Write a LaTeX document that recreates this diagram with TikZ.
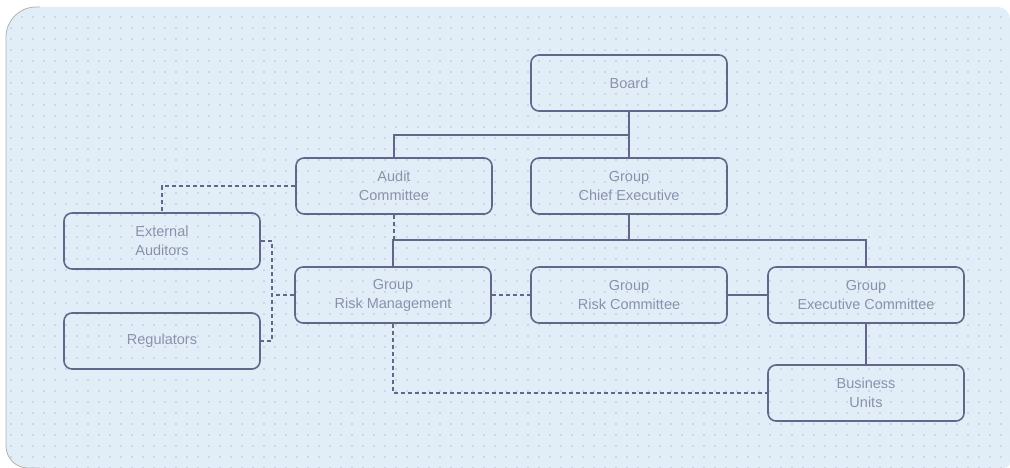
\documentclass[tikz,border=0pt]{standalone}
\usepackage{fontspec}
\setmainfont{Liberation Sans}
\usetikzlibrary{patterns.meta}
\definecolor{panel}{HTML}{E1EEF8}
\definecolor{dotc}{HTML}{C2B8E2}
\definecolor{linec}{HTML}{62678A}
\definecolor{textc}{HTML}{8C90AA}
\begin{document}
\begin{tikzpicture}[x=1pt,y=-1pt,
  box/.style={draw=linec, line width=1.6pt, rounded corners=8pt,
    minimum width=196pt, minimum height=56pt, align=center,
    text=textc, font=\fontsize{14.5}{19}\selectfont, inner sep=0pt},
  conn/.style={draw=linec, line width=1.6pt},
  dconn/.style={draw=linec, line width=1.6pt, dash pattern=on 4pt off 3pt}]
\useasboundingbox (0,0) rectangle (1010,468);
\fill[panel] (500,7) [rounded corners=12pt] -- (1010,7) [rounded corners=6pt] -- (1010,468) [rounded corners=22pt] -- (6,468) [rounded corners=30pt] -- (6,7) [sharp corners] -- cycle;
\fill[pattern={Dots[distance=11pt,radius=0.8pt]}, pattern color=dotc] (500,7) [rounded corners=12pt] -- (1010,7) [rounded corners=6pt] -- (1010,468) [rounded corners=22pt] -- (6,468) [rounded corners=30pt] -- (6,7) [sharp corners] -- cycle;
\draw[gray!60, line width=0.8pt] (40,7) [rounded corners=30pt] -- (6,7) [rounded corners=22pt] -- (6,468) -- (40,468);

\node[box] (board) at (629,83) {Board};
\node[box] (audit) at (394,186) {Audit\\Committee};
\node[box] (gce) at (629,186) {Group\\Chief Executive};
\node[box] (ext) at (162,241) {External\\Auditors};
\node[box] (grm) at (393,295) {Group\\Risk Management};
\node[box] (grc) at (629,295) {Group\\Risk Committee};
\node[box] (gec) at (866,295) {Group\\Executive Committee};
\node[box] (reg) at (162,341) {Regulators};
\node[box] (bu) at (866,393) {Business\\Units};

\coordinate (j1) at (629,135);
\coordinate (j2) at (629,241);
\coordinate (jd) at (272,295);

% solid connectors
\draw[conn] (board.south) -- (gce.north);
\draw[conn] (j1) -| (audit.north);
\draw[conn] (gce.south) -- (j2);
\draw[conn] (grm.north) -- ++(0,-26) -| (gec.north);
\draw[conn] (grc.east) -- (gec.west);
\draw[conn] (gec.south) -- (bu.north);

% dashed connectors
\draw[dconn] (audit.west) -| (ext.north);
\draw[dconn] (audit.south) -- ++(0,27);
\draw[dconn] (ext.east) -- ++(11,0) |- (reg.east);
\draw[dconn] (grm.west) -- (jd);
\draw[dconn] (grm.east) -- (grc.west);
\draw[dconn] (grm.south) |- (bu.west);
\end{tikzpicture}
\end{document}
